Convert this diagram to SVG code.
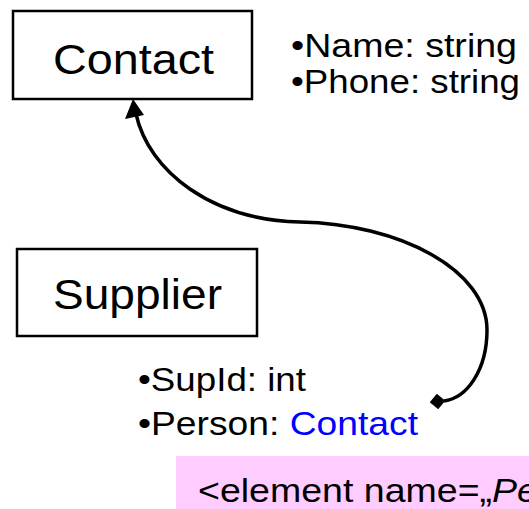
<svg xmlns="http://www.w3.org/2000/svg" width="529" height="509" viewBox="0 0 529 509">
<style>
text{font-family:"Liberation Sans",Arial,sans-serif;fill:#000}
.box{fill:#fff;stroke:#000;stroke-width:2.5}
.title{font-size:43px}
.attr{font-size:33px}
.conn{fill:none;stroke:#000;stroke-width:3.5}
</style>
<rect x="0" y="0" width="529" height="509" fill="#fff"/>
<g id="contact">
<rect class="box" x="13" y="11" width="239" height="88"/>
<text class="title" x="53" y="74" textLength="161" lengthAdjust="spacingAndGlyphs">Contact</text>
</g>
<g id="contact-attrs">
<text class="attr" x="291" y="57" textLength="226" lengthAdjust="spacingAndGlyphs">•Name: string</text>
<text class="attr" x="291" y="93" textLength="229" lengthAdjust="spacingAndGlyphs">•Phone: string</text>
</g>
<g id="supplier">
<rect class="box" x="17" y="249" width="240" height="87"/>
<text class="title" x="53" y="309" textLength="169" lengthAdjust="spacingAndGlyphs">Supplier</text>
</g>
<g id="supplier-attrs">
<text class="attr" x="138" y="391" textLength="168" lengthAdjust="spacingAndGlyphs">•SupId: int</text>
<text class="attr" x="138" y="435" textLength="280" lengthAdjust="spacingAndGlyphs">•Person: <tspan fill="#0000ff">Contact</tspan></text>
</g>
<g id="xml-note">
<rect x="176" y="456" width="360" height="60" fill="#ffccff"/>
<text class="attr" x="198" y="502" textLength="340" lengthAdjust="spacingAndGlyphs">&lt;element name=„<tspan font-style="italic">Pe</tspan></text>
</g>
<g id="connectors">
<path class="conn" d="M136,114 C149,172 212,220 300,222 C400,224 487,270 487,330 C487,370 467,398 444,401"/>
<path d="M133,99 L125,119 L144,115 Z"/>
<rect x="432" y="396" width="11" height="11" transform="rotate(40 437.5 401.5)"/>
</g>
</svg>
